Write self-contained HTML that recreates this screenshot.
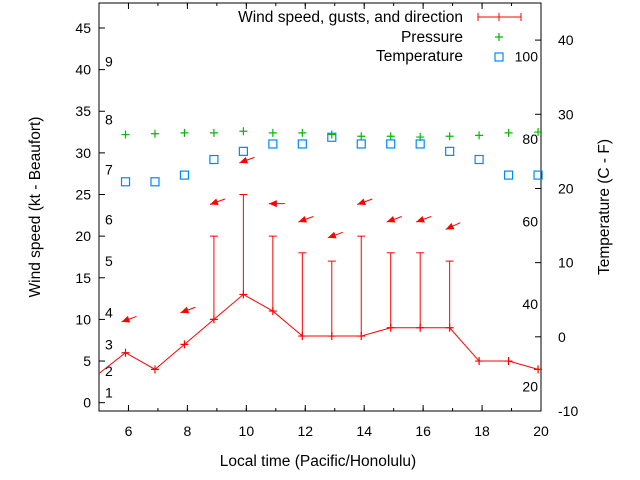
<!DOCTYPE html>
<html><head><meta charset="utf-8"><style>
body{margin:0;background:#fff}
svg{display:block;font-family:"Liberation Sans",sans-serif}
</style></head><body>
<svg id="c" width="640" height="480" viewBox="0 0 640 480" xmlns="http://www.w3.org/2000/svg"></svg>
<script>
const hours=[5,6,7,8,9,10,11,12,13,14,15,16,17,18,19,20];
const speed=[3.5,6,4,7,10,13,11,8,8,8,9,9,9,5,5,4];
const gustHours=[9,10,11,12,13,14,15,16,17];
const gusts=[20,25,20,18,17,20,18,18,17];
const pressHours=[6,7,8,9,10,11,12,13,14,15,16,17,18,19,20];
const pressure=[32.2,32.3,32.4,32.4,32.6,32.4,32.4,32.2,32.0,32.0,31.9,32.0,32.1,32.4,32.5];
const tempHours=[6,7,8,9,10,11,12,13,14,15,16,17,18,19,20];
const temps=[20.9,20.9,21.8,23.9,25.0,26.0,26.0,26.9,26.0,26.0,26.0,25.0,23.9,21.8,21.8];
const dirHours=[6,8,9,10,11,12,13,14,15,16,17];
const dirY=[9.7,10.8,23.8,28.8,23.9,21.7,19.8,23.8,21.7,21.7,20.8];
const dirAngle=[20,20,20,20,0,20,20,20,20,20,25];
const xTicks=[6,8,10,12,14,16,18,20];
const yTicks=[0,5,10,15,20,25,30,35,40,45];
const cTicks=[-10,0,10,20,30,40];
const fLabels=[20,40,60,80,100];
const bftLabels=["1","2","3","4","5","6","7","8","9"];
const bftY=[1.2,3.8,7,10.8,17,22,28,34,41];

const L=99,R=541,T=3,B=411;
const X=h=>L+(h-5)/15*(R-L);
const XD=h=>X(h-0.1);
const Y=v=>B-(v+1)/49*(B-T);
const YC=c=>B-(c+10)/55*(B-T);
const YF=f=>YC((f-32)*5/9);
const svg=document.getElementById('c');
const NS='http://www.w3.org/2000/svg';
function el(tag,attrs,name,text){const e=document.createElementNS(NS,tag);for(const k in attrs)e.setAttribute(k,attrs[k]);


if(text!==undefined)e.textContent=text;svg.appendChild(e);return e;}
function ln(x1,y1,x2,y2,s,n){return el('line',{x1,y1,x2,y2,stroke:s,'stroke-width':1},n);}
function plus(x,y,c,n){el('path',{d:`M${x-4},${y}h8M${x},${y-4}v8`,stroke:c,'stroke-width':1.2,fill:'none'},n);}

el('rect',{x:L,y:T,width:R-L,height:B-T,fill:'none',stroke:'#000','stroke-width':1},'plot-frame');
xTicks.forEach(t=>{ln(X(t),B,X(t),B-6,'#000','x-tick');ln(X(t),T,X(t),T+6,'#000','x-tick-top');
 el('text',{x:X(t),y:B+25,'font-size':14,'text-anchor':'middle'},'x-tick-label',t);});
for(let h=5;h<=20;h++){ln(X(h),B,X(h),B-3,'#000','x-minor-tick');ln(X(h),T,X(h),T+3,'#000','x-minor-tick-top');}
yTicks.forEach(t=>{ln(L,Y(t),L+6,Y(t),'#000','y-tick');
 el('text',{x:L-8,y:Y(t)+5,'font-size':14,'text-anchor':'end'},'y-tick-label',t);});
cTicks.forEach(t=>{ln(R,YC(t),R-6,YC(t),'#000','y2-tick');
 el('text',{x:R+17,y:YC(t)+5,'font-size':14},'y2-tick-label',t);});
fLabels.forEach(f=>{el('text',{x:R-3,y:YF(f)+5,'font-size':14,'text-anchor':'end'},'fahrenheit-label',f);});
bftLabels.forEach((b,i)=>{el('text',{x:105,y:Y(bftY[i])+5,'font-size':14},'beaufort-label',b);});
el('text',{x:318,y:466,'font-size':15.5,'text-anchor':'middle'},'x-axis-title','Local time (Pacific/Honolulu)');
el('text',{x:0,y:0,'font-size':15.5,'text-anchor':'middle',transform:`translate(40,${(T+B)/2}) rotate(-90)`},'y-axis-title','Wind speed (kt - Beaufort)');
el('text',{x:0,y:0,'font-size':15.5,'text-anchor':'middle',transform:`translate(609,${(T+B)/2}) rotate(-90)`},'y2-axis-title','Temperature (C - F)');

el('polyline',{points:hours.map((h,i)=>`${h===5?X(5):XD(h)},${Y(speed[i])}`).join(' '),fill:'none',stroke:'#f00','stroke-width':1},'wind-speed-line');
hours.forEach((h,i)=>{if(h>5)plus(XD(h),Y(speed[i]),'#f00','wind-point');});
gustHours.forEach((h,i)=>{const x=XD(h),y0=Y(speed[hours.indexOf(h)]),y1=Y(gusts[i]);
 ln(x,y0,x,y1,'#f00','gust-bar');ln(x-4,y1,x+4,y1,'#f00','gust-cap');});
dirHours.forEach((h,i)=>{const x=XD(h)-4,y=Y(dirY[i]),a=dirAngle[i]*Math.PI/180;
 const tx=x+16*Math.cos(a),ty=y-16*Math.sin(a);
 ln(x,y,tx,ty,'#f00','wind-direction-arrow');
 const ux=Math.cos(a),uy=-Math.sin(a);
 el('polygon',{points:`${x},${y} ${x+8*ux-3.5*uy},${y+8*uy+3.5*ux} ${x+8*ux+3.5*uy},${y+8*uy-3.5*ux}`,fill:'#f00'},'wind-arrow-head');});
pressHours.forEach((h,i)=>plus(XD(h),Y(pressure[i]),'#0b0','pressure-point'));
tempHours.forEach((h,i)=>el('rect',{x:XD(h)-4,y:YC(temps[i])-4,width:8,height:8,fill:'none',stroke:'#08f','stroke-width':1.2},'temperature-point'));
el('text',{x:463,y:22,'font-size':15.5,'text-anchor':'end'},'legend-wind','Wind speed, gusts, and direction');
ln(478,17,521,17,'#f00','legend-wind-line');ln(478,13,478,21,'#f00','legend-wind-cap');ln(521,13,521,21,'#f00','legend-wind-cap');ln(499,13,499,21,'#f00','legend-wind-mark');
el('text',{x:463,y:42,'font-size':15.5,'text-anchor':'end'},'legend-pressure','Pressure');
plus(499,37,'#0b0','legend-pressure-mark');
el('text',{x:463,y:61,'font-size':15.5,'text-anchor':'end'},'legend-temperature','Temperature');
el('rect',{x:495,y:53,width:8,height:8,fill:'none',stroke:'#08f','stroke-width':1.2},'legend-temperature-mark');
</script>
</body></html>
